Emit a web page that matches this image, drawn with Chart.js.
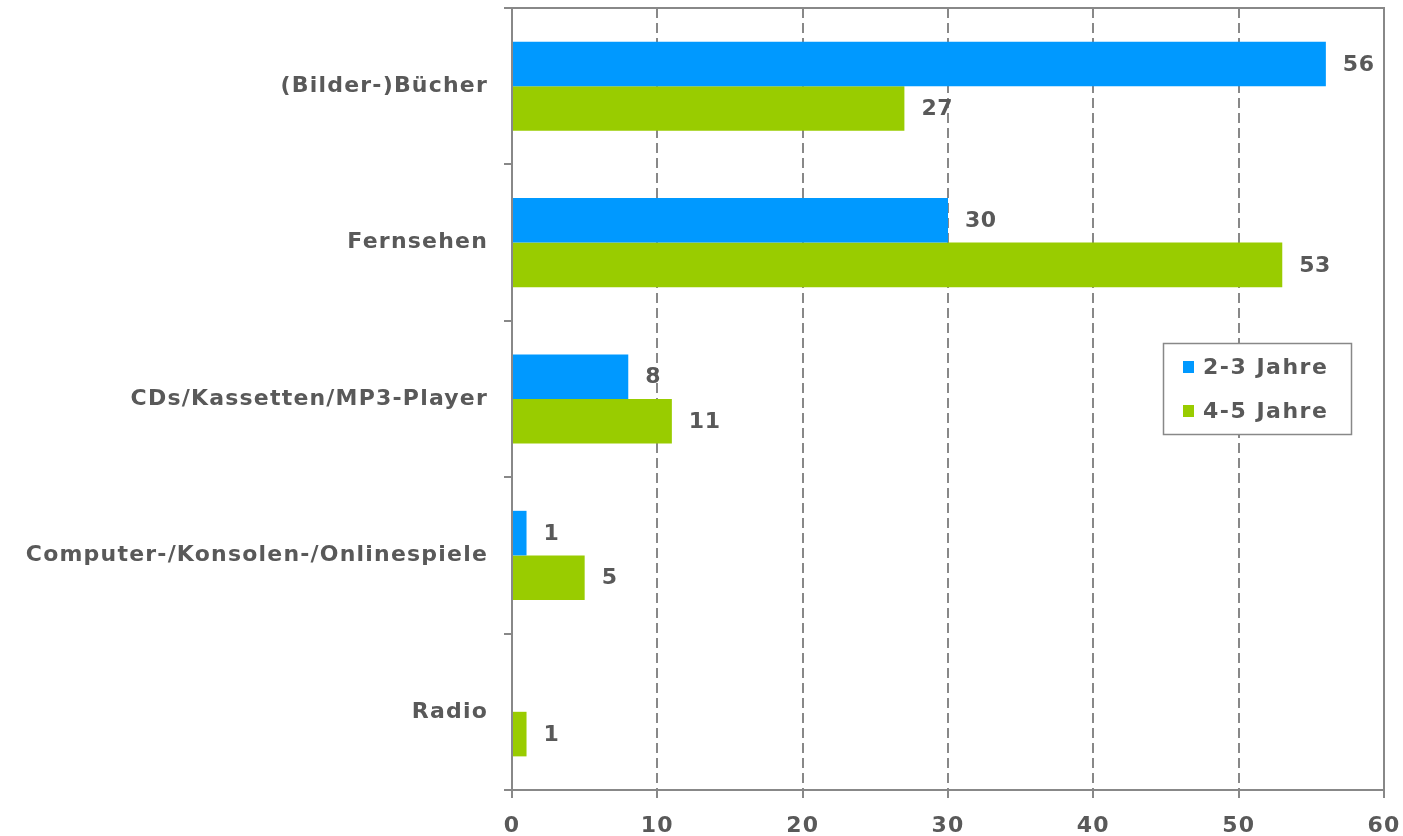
<!DOCTYPE html>
<html>
<head>
<meta charset="utf-8">
<script src="https://cdn.jsdelivr.net/npm/chart.js@4/dist/chart.umd.min.js"></script>
<style>
html,body{margin:0;padding:0;background:#fff;}
#wrap{width:1403px;height:836px;position:relative;}
</style>
</head>
<body>
<div id="wrap"><canvas id="c" width="1403" height="836"></canvas></div>
<script>
const categories = ["(Bilder-)Bücher", "Fernsehen", "CDs/Kassetten/MP3-Player", "Computer-/Konsolen-/Onlinespiele", "Radio"];
const seriesNames = ["2-3 Jahre", "4-5 Jahre"];
const values23 = [56, 30, 8, 1, null];
const values45 = [27, 53, 11, 5, 1];
const xTicks = [0, 10, 20, 30, 40, 50, 60];

const TEXT = '#595959';
const LINE = '#888888';
const FONT = 'DejaVu Sans, Verdana, sans-serif';

const spacingPlugin = {
  id: 'spacing',
  beforeUpdate(chart) { chart.ctx.letterSpacing = '1.2px'; },
  beforeDraw(chart) { chart.ctx.letterSpacing = '1.2px'; }
};

const labelPlugin = {
  id: 'valueLabels',
  afterDatasetsDraw(chart) {
    const ctx = chart.ctx;
    ctx.save();
    ctx.letterSpacing = '0.5px';
    ctx.font = 'bold 22px ' + FONT;
    ctx.fillStyle = TEXT;
    ctx.textAlign = 'left';
    ctx.textBaseline = 'middle';
    chart.data.datasets.forEach((ds, di) => {
      const meta = chart.getDatasetMeta(di);
      meta.data.forEach((bar, i) => {
        const v = ds.data[i];
        if (v === null || v === undefined) return;
        ctx.fillText(String(v), bar.x + 17, bar.y + 1);
      });
    });
    ctx.restore();
  }
};

const framePlugin = {
  id: 'frame',
  afterDraw(chart) {
    const a = chart.chartArea;
    const ctx = chart.ctx;
    ctx.save();
    ctx.strokeStyle = LINE;
    ctx.lineWidth = 2;
    ctx.setLineDash([]);
    ctx.beginPath();
    ctx.moveTo(a.left - 8, a.top);
    ctx.lineTo(a.right, a.top);
    ctx.lineTo(a.right, a.bottom + 8);
    ctx.stroke();
    // legend
    const bx = 1163, by = 343, bw = 188, bh = 91;
    ctx.fillStyle = '#fff';
    ctx.fillRect(bx, by, bw, bh);
    ctx.strokeStyle = LINE;
    ctx.lineWidth = 1.5;
    ctx.strokeRect(bx + 0.5, by + 0.5, bw, bh);
    ctx.letterSpacing = '1.5px';
    ctx.font = 'bold 22px ' + FONT;
    ctx.textBaseline = 'middle';
    ctx.textAlign = 'left';
    chart.data.datasets.forEach((ds, i) => {
      const cy = by + 24 + i * 44;
      ctx.fillStyle = ds.backgroundColor;
      ctx.fillRect(bx + 20, cy - 6, 11, 12);
      ctx.fillStyle = TEXT;
      ctx.fillText(ds.label, bx + 40, cy + 1);
    });
    ctx.restore();
  }
};

new Chart(document.getElementById('c'), {
  type: 'bar',
  data: {
    labels: categories,
    datasets: [
      { label: seriesNames[0], data: values23, backgroundColor: '#0099FF', categoryPercentage: 0.57, barPercentage: 1.0 },
      { label: seriesNames[1], data: values45, backgroundColor: '#99CC00', categoryPercentage: 0.57, barPercentage: 1.0 }
    ]
  },
  options: {
    indexAxis: 'y',
    responsive: false,
    animation: false,
    layout: { padding: { top: 8, right: 19, left: 0, bottom: 0 } },
    plugins: { legend: { display: false }, tooltip: { enabled: false } },
    scales: {
      x: {
        min: 0, max: 60,
        afterBuildTicks(scale) { scale.ticks = xTicks.map(v => ({ value: v })); },
        afterFit(scale) { scale.height = 46; scale.paddingRight = 0; scale.paddingLeft = 0; },
        grid: {
          color: LINE, lineWidth: 2, drawOnChartArea: true, drawTicks: true,
          tickLength: 8, tickBorderDash: [], tickColor: LINE
        },
        border: { display: true, color: LINE, width: 2, dash: (ctx) => [10, 5] },
        ticks: { color: TEXT, font: { family: FONT, size: 22, weight: 'bold' }, padding: 15 }
      },
      y: {
        afterFit(scale) { scale.width = 512; scale.paddingTop = 0; scale.paddingBottom = 0; },
        grid: { offset: true, drawOnChartArea: false, drawTicks: true, tickLength: 8, color: LINE, lineWidth: 2 },
        border: { display: true, color: LINE, width: 2 },
        ticks: { color: TEXT, font: { family: FONT, size: 22, weight: 'bold' }, padding: 16 }
      }
    }
  },
  plugins: [spacingPlugin, labelPlugin, framePlugin]
});
</script>
</body>
</html>
